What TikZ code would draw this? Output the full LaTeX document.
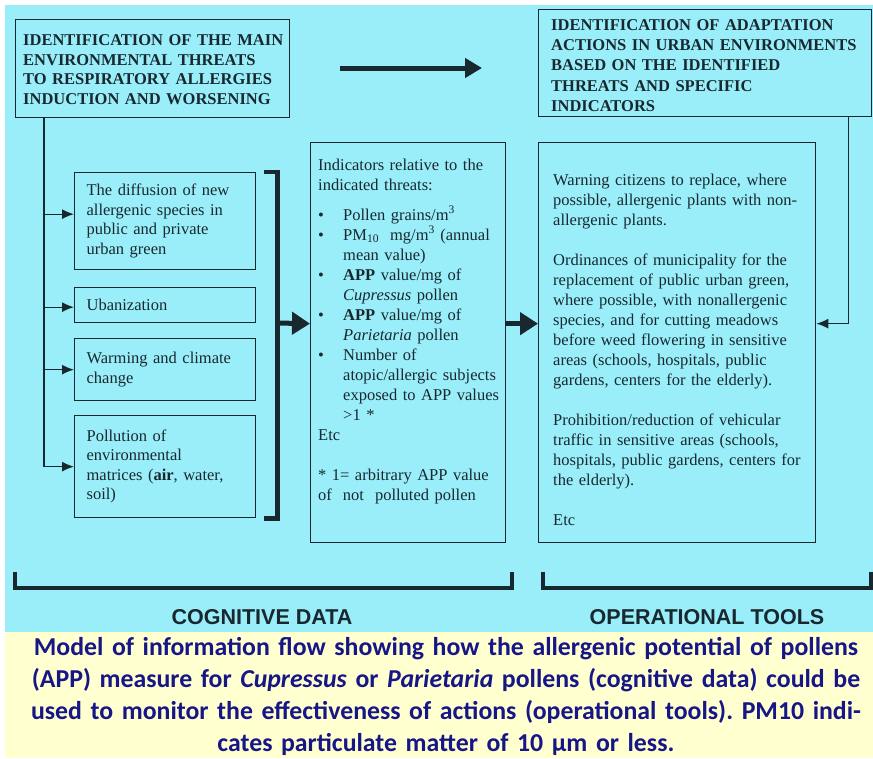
\documentclass[tikz,border=0pt]{standalone}
\usepackage{fontspec}
\setmainfont{Liberation Serif}
\newfontfamily\capfont{Carlito}
\newfontfamily\labfont{Liberation Sans}
\usetikzlibrary{arrows.meta}
\definecolor{bgcyan}{RGB}{154,238,250}
\definecolor{bgyellow}{RGB}{255,255,208}
\definecolor{ink}{RGB}{24,40,46}
\definecolor{navy}{RGB}{22,22,135}
\newcommand{\blt}{\makebox[25pt][l]{\textbullet}}
\newcommand{\indt}{\makebox[25pt]{}}
\frenchspacing
\begin{document}
\begin{tikzpicture}[x=1pt,y=-1pt,
  box/.style={draw=ink, line width=1.3pt, inner sep=0pt},
  txt/.style={text=ink, inner sep=0pt, align=left, font=\fontsize{16.5}{20}\selectfont},
  hdtxt/.style={txt, font=\bfseries\fontsize{16.5}{19.7}\selectfont},
  leftbox/.style={box, text=ink, align=left, text width=157pt, inner xsep=12pt,
     minimum width=181pt, anchor=north west, font=\fontsize{16.5}{19.5}\selectfont},
  arr/.style={draw=ink, line width=1.3pt, -{Latex[length=12pt,width=10pt]}},
  bigarr/.style={draw=ink, line width=5pt, -{Triangle[length=18pt,width=22pt]}},
  brk/.style={draw=ink, line width=4.5pt, line cap=butt, line join=miter},
  lab/.style={text=ink, inner sep=0pt, font=\labfont\bfseries\fontsize{21.5}{21.5}\selectfont},
  captxt/.style={text=navy, inner sep=0pt, align=center, text width=868pt,
     font=\capfont\bfseries\fontsize{25.8}{32}\selectfont}
]
\useasboundingbox (0,0) rectangle (873,758);
\fill[white] (0,0) rectangle (873,758);
\fill[bgcyan] (5,5) rectangle (873,632);
\fill[bgyellow] (5,632) rectangle (873,758);

% top boxes
\node[box, minimum width=274pt, minimum height=98pt, anchor=north west] (A) at (15,19) {};
\node[hdtxt, text width=262pt, anchor=base west] (Atxt) at (23,45.5)
  {IDENTIFICATION OF THE MAIN\\ENVIRONMENTAL THREATS\\TO RESPIRATORY ALLERGIES\\INDUCTION AND WORSENING};
\node[box, minimum width=333pt, minimum height=107pt, anchor=north west] (B) at (538,9) {};
\node[hdtxt, text width=318pt, anchor=base west, font=\bfseries\fontsize{16.5}{20.2}\selectfont] (Btxt) at (551,30.5)
  {IDENTIFICATION OF ADAPTATION\\ACTIONS IN URBAN ENVIRONMENTS\\BASED ON THE IDENTIFIED\\THREATS AND SPECIFIC\\INDICATORS};

% top arrow
\coordinate (ta1) at (340,68);
\coordinate (ta2) at (482,68);
\draw[bigarr, -{Triangle[length=17pt,width=19pt]}] (ta1) -- (ta2);

% left boxes
\node[leftbox, minimum height=97pt] (b1) at (74,172)
  {The diffusion of new\\allergenic species in\\public and private\\urban green};
\node[leftbox, minimum height=35pt] (b2) at (74,287) {Ubanization};
\node[leftbox, minimum height=62pt] (b3) at (74,338) {Warming and climate\\change};
\node[leftbox, minimum height=102pt] (b4) at (74,415)
  {Pollution of\\environmental\\matrices (\textbf{air}, water,\\soil)};

% connectors from A
\coordinate (vtop) at ([xshift=29pt]A.south west);
\draw[arr] (vtop) |- (b4.west);
\draw[arr] ([yshift=7pt]b1.west -| vtop) -- ([yshift=7pt]b1.west);
\draw[arr] ([yshift=-2pt]b2.west -| vtop) -- ([yshift=-2pt]b2.west);
\draw[arr] (b3.west -| vtop) -- (b3.west);

% bracket
\draw[brk] ([xshift=8pt]b1.north east) -| ([xshift=21pt]b4.south east) -- ([xshift=8pt]b4.south east);

% middle box
\node[box, minimum width=195pt, minimum height=400pt, anchor=north west] (M) at (310,142) {};
\node[txt, text width=185pt, anchor=base west] (Mtxt) at (318,170)
  {Indicators relative to the\\
   indicated threats:\\[10pt]
   \blt Pollen grains/m\textsuperscript{3}\\
   \blt PM\textsubscript{10}\ \ mg/m\textsuperscript{3} (annual\\
   \indt mean value)\\
   \blt \textbf{APP} value/mg of\\
   \indt \textit{Cupressus} pollen\\
   \blt \textbf{APP} value/mg of\\
   \indt \textit{Parietaria} pollen\\
   \blt Number of\\
   \indt atopic/allergic subjects\\
   \indt exposed to APP values\\
   \indt {>}1 *\\
   Etc\\[20pt]
   * 1= arbitrary APP value\\
   of \ not \ polluted pollen};

% right box
\node[box, minimum width=277pt, minimum height=400pt, anchor=north west] (R) at (538,142) {};
\node[txt, text width=262pt, anchor=base west] (Rtxt) at (553,185)
  {Warning citizens to replace, where\\
   possible, allergenic plants with non-\\
   allergenic plants.\\[20pt]
   Ordinances of municipality for the\\
   replacement of public urban green,\\
   where possible, with nonallergenic\\
   species, and for cutting meadows\\
   before weed flowering in sensitive\\
   areas (schools, hospitals, public\\
   gardens, centers for the elderly).\\[20pt]
   Prohibition/reduction of vehicular\\
   traffic in sensitive areas (schools,\\
   hospitals, public gardens, centers for\\
   the elderly).\\[20pt]
   Etc};

% thick arrows
\coordinate (brkpt) at (276,323);
\draw[bigarr] (brkpt) -- ([yshift=19pt]M.west);
\draw[bigarr] ([yshift=19pt]M.east) -- ([yshift=19pt]R.west);

% feedback
\draw[arr] ([xshift=-24pt]B.south east) |- ([yshift=19pt]R.east);

% bottom brackets
\coordinate (c1) at (15,572);
\coordinate (c2) at (512,572);
\coordinate (o1) at (543,572);
\coordinate (o2) at (871,572);
\draw[brk] (c1) -- ++(0,16) -| (c2);
\draw[brk] (o1) -- ++(0,16) -| (o2);

\node[lab] (cog) at (262,617) {COGNITIVE DATA};
\node[lab] (ops) at (707,617) {OPERATIONAL TOOLS};

% caption
\node[captxt, anchor=base] (caption) at (446,655)
  {Model of information flow showing how the allergenic potential of pollens\\
   (APP) measure for \textit{Cupressus} or \textit{Parietaria} pollens (cognitive data) could be\\
   used to monitor the effectiveness of actions (operational tools). PM10 indi-\\
   cates particulate matter of 10 µm or less.};
\end{tikzpicture}
\end{document}
